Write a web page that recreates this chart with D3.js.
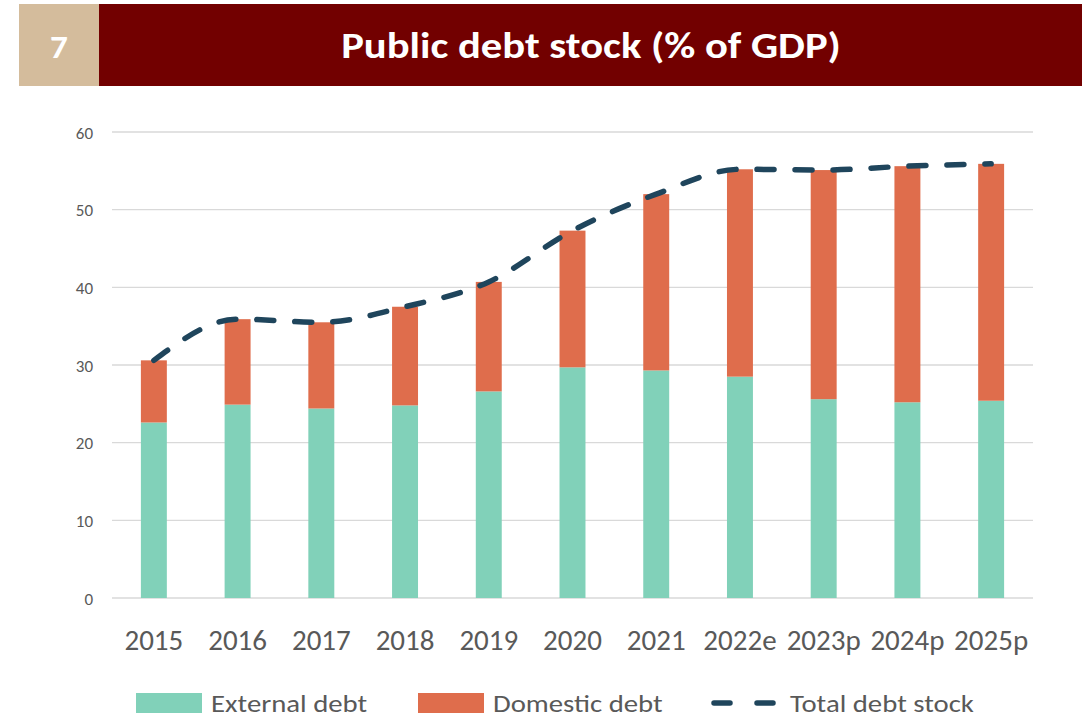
<!DOCTYPE html>
<html>
<head>
<meta charset="utf-8">
<script src="https://cdn.jsdelivr.net/npm/d3@7"></script>
<style>
  html, body { margin: 0; padding: 0; background: #ffffff; }
  svg { display: block; }
</style>
</head>
<body>
<svg id="chart" width="1082" height="718"></svg>
<script>
// Public debt stock, % of GDP
const years = ["2015", "2016", "2017", "2018", "2019", "2020", "2021", "2022e", "2023p", "2024p", "2025p"];
const externalDebt = [22.6, 24.9, 24.4, 24.8, 26.6, 29.7, 29.3, 28.5, 25.6, 25.2, 25.4];
const totalDebt = [30.6, 35.9, 35.5, 37.5, 40.7, 47.3, 52.0, 55.2, 55.1, 55.6, 55.9];
const domesticDebt = totalDebt.map((t, i) => +(t - externalDebt[i]).toFixed(1));
const yTicks = [0, 10, 20, 30, 40, 50, 60];

const chartNumber = "7";
const chartTitle = "Public debt stock (% of GDP)";
const seriesNames = ["External debt", "Domestic debt", "Total debt stock"];

const colors = {
  external: "#81d1b9",
  domestic: "#df6d4c",
  total: "#1f455c",
  header: "#720000",
  badge: "#d4bc9c",
  grid: "#d9d9d9",
  text: "#595959"
};

const FONT = "Carlito, Calibri, Lato, 'Open Sans', sans-serif";

const svg = d3.select("#chart");

// Header band
svg.append("rect").attr("x", 19).attr("y", 4).attr("width", 80).attr("height", 82).attr("fill", colors.badge);
svg.append("rect").attr("x", 99).attr("y", 4).attr("width", 983).attr("height", 82).attr("fill", colors.header);
svg.append("text")
  .attr("transform", "translate(59,58) scale(1.1,1)")
  .attr("text-anchor", "middle")
  .attr("fill", "#ffffff")
  .style("font-family", FONT).style("font-weight", 700).style("font-size", "32px")
  .text(chartNumber);
svg.append("text")
  .attr("transform", "translate(591,58) scale(1.2,1)")
  .attr("text-anchor", "middle")
  .attr("fill", "#ffffff")
  .style("font-family", FONT).style("font-weight", 700).style("font-size", "35.5px")
  .text(chartTitle);

// Plot area
const plot = { left: 112, right: 1033, top: 132, bottom: 598 };

const x = d3.scaleBand()
  .domain(years)
  .range([plot.left, plot.right])
  .paddingInner(0.69)
  .paddingOuter(0.345);

const y = d3.scaleLinear().domain([0, 60]).range([plot.bottom, plot.top]);

// Gridlines
svg.append("g")
  .selectAll("line")
  .data(yTicks)
  .join("line")
  .attr("x1", plot.left).attr("x2", plot.right)
  .attr("y1", d => y(d)).attr("y2", d => y(d))
  .attr("stroke", colors.grid).attr("stroke-width", 1.3);

// Y axis labels
const yAxis = svg.append("g")
  .attr("transform", `translate(${plot.left - 19},0)`)
  .call(d3.axisLeft(y).tickValues(yTicks).tickSize(0).tickPadding(0));
yAxis.select(".domain").remove();
yAxis.selectAll("text")
  .attr("fill", colors.text)
  .attr("dy", "0.36em")
  .style("font-family", FONT).style("font-size", "17px");

// Stacked bars
const stackData = years.map((yr, i) => ({ year: yr, external: externalDebt[i], domestic: domesticDebt[i] }));
const stack = d3.stack().keys(["external", "domestic"])(stackData);

svg.append("g")
  .selectAll("g")
  .data(stack)
  .join("g")
  .attr("fill", d => colors[d.key])
  .selectAll("rect")
  .data(d => d)
  .join("rect")
  .attr("x", d => x(d.data.year))
  .attr("width", x.bandwidth())
  .attr("y", d => y(d[1]))
  .attr("height", d => y(d[0]) - y(d[1]));

// Total debt stock line
const line = d3.line()
  .x((d, i) => x(years[i]) + x.bandwidth() / 2)
  .y(d => y(d))
  .curve(d3.curveMonotoneX);

svg.append("path")
  .datum(totalDebt)
  .attr("d", line)
  .attr("fill", "none")
  .attr("stroke", colors.total)
  .attr("stroke-width", 5.5)
  .attr("stroke-linecap", "round")
  .attr("stroke-dasharray", "17 21");

// X axis labels
const xAxis = svg.append("g")
  .attr("transform", `translate(0,${plot.bottom})`)
  .call(d3.axisBottom(x).tickSize(0).tickPadding(0));
xAxis.select(".domain").remove();
xAxis.selectAll("text")
  .attr("fill", colors.text)
  .attr("y", 52)
  .attr("dy", 0)
  .style("font-family", FONT).style("font-size", "29px");

// Legend
const legend = svg.append("g").style("font-family", FONT).style("font-size", "25px");
const legendText = (x0, label) => legend.append("text")
  .attr("transform", `translate(${x0},712) scale(1.15,1)`)
  .attr("fill", colors.text)
  .text(label);
legend.append("rect").attr("x", 136).attr("y", 693).attr("width", 66).attr("height", 20).attr("fill", colors.external);
legendText(211, seriesNames[0]);
legend.append("rect").attr("x", 418).attr("y", 693).attr("width", 66).attr("height", 20).attr("fill", colors.domestic);
legendText(493, seriesNames[1]);
legend.append("line")
  .attr("x1", 714).attr("x2", 776).attr("y1", 703).attr("y2", 703)
  .attr("stroke", colors.total).attr("stroke-width", 5.5)
  .attr("stroke-linecap", "round").attr("stroke-dasharray", "16 27");
legendText(790, seriesNames[2]);
</script>
</body>
</html>
